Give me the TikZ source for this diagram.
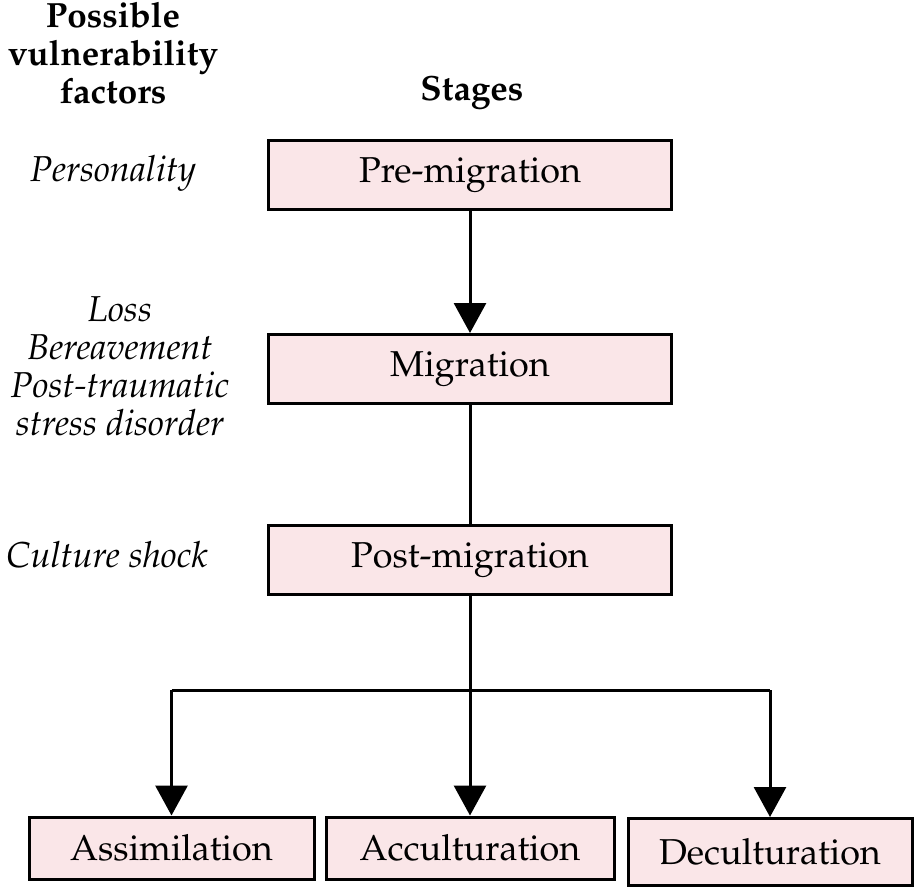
\documentclass[tikz,border=0pt]{standalone}
\usepackage[T1]{fontenc}
\usepackage{mathpazo}
\usetikzlibrary{arrows.meta}
\definecolor{boxpink}{RGB}{250,230,232}
\begin{document}
\begin{tikzpicture}[x=0.5pt,y=-0.5pt,
 box/.style={draw, line width=1.5pt, fill=boxpink, minimum width=201.5pt, minimum height=34.5pt, inner sep=0pt, font=\fontsize{18}{19}\selectfont},
 lab/.style={font=\fontsize{18}{19}\selectfont\itshape, align=center, inner sep=0pt},
 head/.style={font=\fontsize{17.5}{19}\selectfont\bfseries, align=center, inner sep=0pt},
 conn/.style={line width=1.5pt},
 arr/.style={conn, -{Triangle[width=16pt,length=15pt]}}]
\useasboundingbox (0,0) rectangle (915,889);
\node[box] (pre) at (470,175) {Pre-migration};
\node[box] (mig) at (470,369) {Migration};
\node[box] (post) at (470,560) {Post-migration};
\node[box, minimum width=142.5pt, minimum height=31pt] (ass) at (171.5,848) {Assimilation};
\node[box, minimum width=144pt, minimum height=31pt] (acc) at (470,848) {Acculturation};
\node[box, minimum width=142pt, minimum height=33.5pt] (dec) at (770,852) {Deculturation};
\coordinate (j) at (470,690);
\coordinate (jl) at (171.5,690);
\coordinate (jr) at (770,690);
\draw[arr] (pre) -- (mig);
\draw[conn] (mig) -- (post);
\draw[conn] (post) -- (j);
\draw[conn] (jl) -- (jr);
\draw[arr] (jl) -- (ass);
\draw[arr] (j) -- (acc);
\draw[arr] (jr) -- (dec);
\node[head] (hf) at (113,53) {Possible\\vulnerability\\factors};
\node[head] (hs) at (472,93) {Stages};
\node[lab] (p) at (113,173) {Personality};
\node[lab] (l) at (120,366) {Loss\\Bereavement\\Post-traumatic\\stress disorder};
\node[lab] (c) at (107,555) {Culture shock};
\end{tikzpicture}
\end{document}
